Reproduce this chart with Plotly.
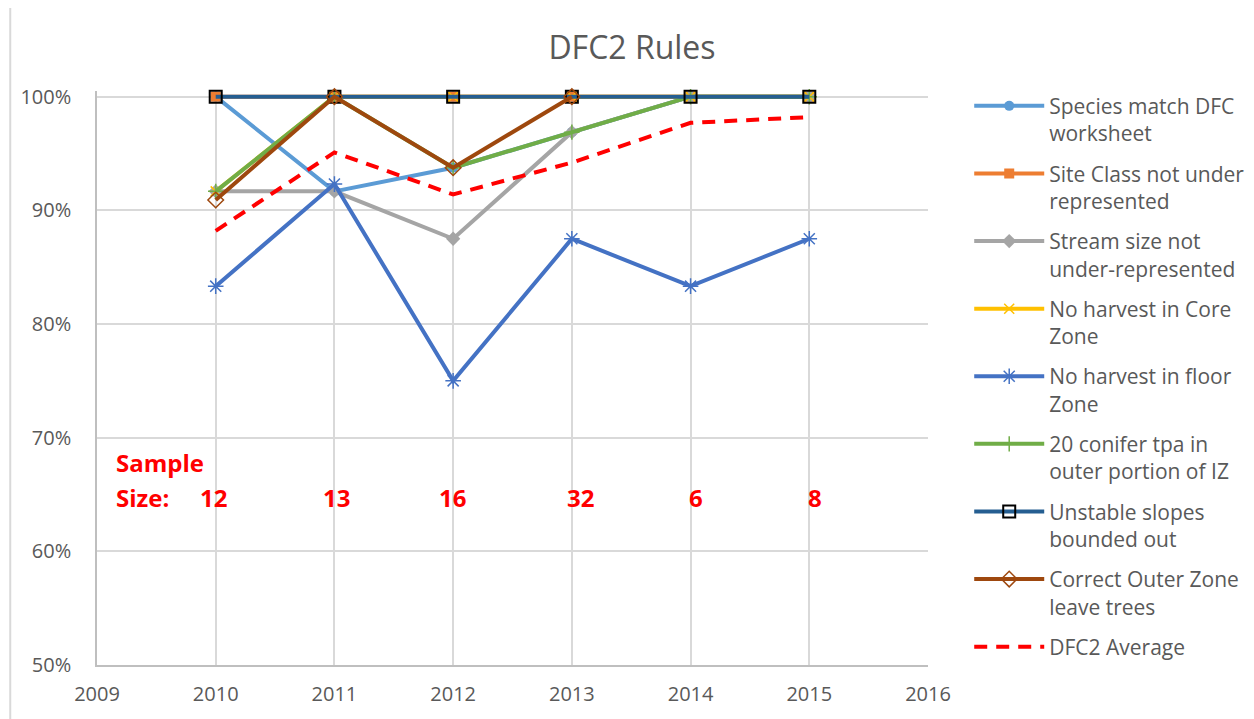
import plotly.graph_objects as go

years = [2010, 2011, 2012, 2013, 2014, 2015]
species_match = [1.0, 0.9167, 0.9375, 0.9688, 1.0, 1.0]
site_class = [1.0, 1.0, 1.0, 1.0, 1.0, 1.0]
stream_size = [0.9167, 0.9167, 0.875, 0.9688, 1.0, 1.0]
core_zone = [0.9167, 1.0, 1.0, 1.0, 1.0, 1.0]
floor_zone = [0.8333, 0.9231, 0.75, 0.875, 0.8333, 0.875]
conifer_tpa = [0.9167, 1.0, 0.9375, 0.9688, 1.0, 1.0]
unstable_slopes = [1.0, 1.0, 1.0, 1.0, 1.0, 1.0]
outer_zone = [0.9091, 1.0, 0.9375, 1.0, None, None]
dfc2_average = [0.882, 0.951, 0.914, 0.942, 0.977, 0.982]
sample_sizes = [12, 13, 16, 32, 6, 8]
sample_shift = [-2, 2, -1, 9, 5, 6]

FONT = "Open Sans"
TXT = "#595959"
LW = 4

series = [
    ("Species match DFC<br>worksheet", species_match, "#5B9BD5", LW,
     dict(symbol="circle", size=10, color="#5B9BD5")),
    ("Site Class not under<br>represented", site_class, "#ED7D31", LW,
     dict(symbol="square", size=10, color="#ED7D31")),
    ("Stream size not<br>under-represented", stream_size, "#A5A5A5", LW,
     dict(symbol="diamond", size=11, color="#A5A5A5")),
    ("No harvest in Core<br>Zone", core_zone, "#FFC000", LW,
     dict(symbol="x-thin-open", size=10, color="#FFC000", line=dict(color="#FFC000", width=1.5))),
    ("No harvest in floor<br>Zone", floor_zone, "#4472C4", LW,
     dict(symbol="asterisk-open", size=13, color="#4472C4", line=dict(color="#4472C4", width=1.5))),
    ("20 conifer tpa in<br>outer portion of IZ", conifer_tpa, "#70AD47", LW,
     dict(symbol="cross-thin-open", size=11, color="#70AD47", line=dict(color="#70AD47", width=1.5))),
    ("Unstable slopes<br>bounded out", unstable_slopes, "#255E91", LW,
     dict(symbol="square-open", size=12, color="#000000", line=dict(color="#000000", width=2))),
    ("Correct Outer Zone<br>leave trees", outer_zone, "#9E480E", LW,
     dict(symbol="diamond-open", size=12, color="#9E480E", line=dict(color="#9E480E", width=1.5))),
]

fig = go.Figure()
for i, (name, vals, col, w, mk) in enumerate(series):
    fig.add_trace(go.Scatter(
        x=years, y=vals, name=name, mode="lines+markers",
        line=dict(color=col, width=w), marker=mk, cliponaxis=False,
        legendgroup=f"g{i}",
    ))
fig.add_trace(go.Scatter(
    x=years, y=dfc2_average, name="DFC2 Average", mode="lines",
    line=dict(color="#FF0000", width=4, dash="13px,9px"), cliponaxis=False,
    legendgroup="g9",
))

RED = dict(family=FONT, size=24, color="#FF0000")
fig.add_annotation(x=2009, y=0.7, xref="x", yref="y", text="<b>Sample</b>", showarrow=False,
                   xanchor="left", yanchor="middle", xshift=17, yshift=-25, font=RED)
fig.add_annotation(x=2009, y=0.7, xref="x", yref="y", text="<b>Size:</b>", showarrow=False,
                   xanchor="left", yanchor="middle", xshift=17, yshift=-60, font=RED)
for yr, n, sh in zip(years, sample_sizes, sample_shift):
    fig.add_annotation(x=yr, y=0.7, xref="x", yref="y", text=f"<b>{n}</b>", showarrow=False,
                       xanchor="center", yanchor="middle", xshift=sh, yshift=-60, font=RED)

fig.add_shape(type="rect", xref="paper", yref="paper", x0=-0.1044, x1=2, y0=-1, y1=1.1522,
              line=dict(color="#D9D9D9", width=2), fillcolor="rgba(0,0,0,0)", layer="below")

fig.update_layout(
    width=1254, height=719,
    margin=dict(l=87, r=334, t=83.3, b=62),
    paper_bgcolor="white", plot_bgcolor="white",
    title=dict(text="DFC2 Rules", x=0.4976, xref="container", xanchor="center", y=0.944, yanchor="middle",
               font=dict(family=FONT, size=32, color=TXT)),
    font=dict(family=FONT, color=TXT, size=20),
    xaxis=dict(range=[2009, 2016], dtick=1, tick0=2009, showgrid=True, gridcolor="#D9D9D9", gridwidth=1.5,
               showline=True, linecolor="#BFBFBF", linewidth=1.5, zeroline=False, ticks="",
               tickfont=dict(family=FONT, size=20, color=TXT), ticklabelstandoff=10),
    yaxis=dict(range=[0.5, 1.005], tickvals=[0.5, 0.6, 0.7, 0.8, 0.9, 1.0], tickformat=".0%",
               showgrid=True, gridcolor="#D9D9D9", gridwidth=1.5,
               showline=True, linecolor="#BFBFBF", linewidth=1.5, zeroline=False, ticks="",
               tickfont=dict(family=FONT, size=20, color=TXT), ticklabelstandoff=20),
    legend=dict(x=1.0496, xanchor="left", y=1.0092, yanchor="top", font=dict(family=FONT, size=21, color=TXT),
                itemwidth=70, tracegroupgap=10, valign="top", maxheight=715, bgcolor="rgba(0,0,0,0)"),
    showlegend=True,
)

fig.write_html("out.html")
